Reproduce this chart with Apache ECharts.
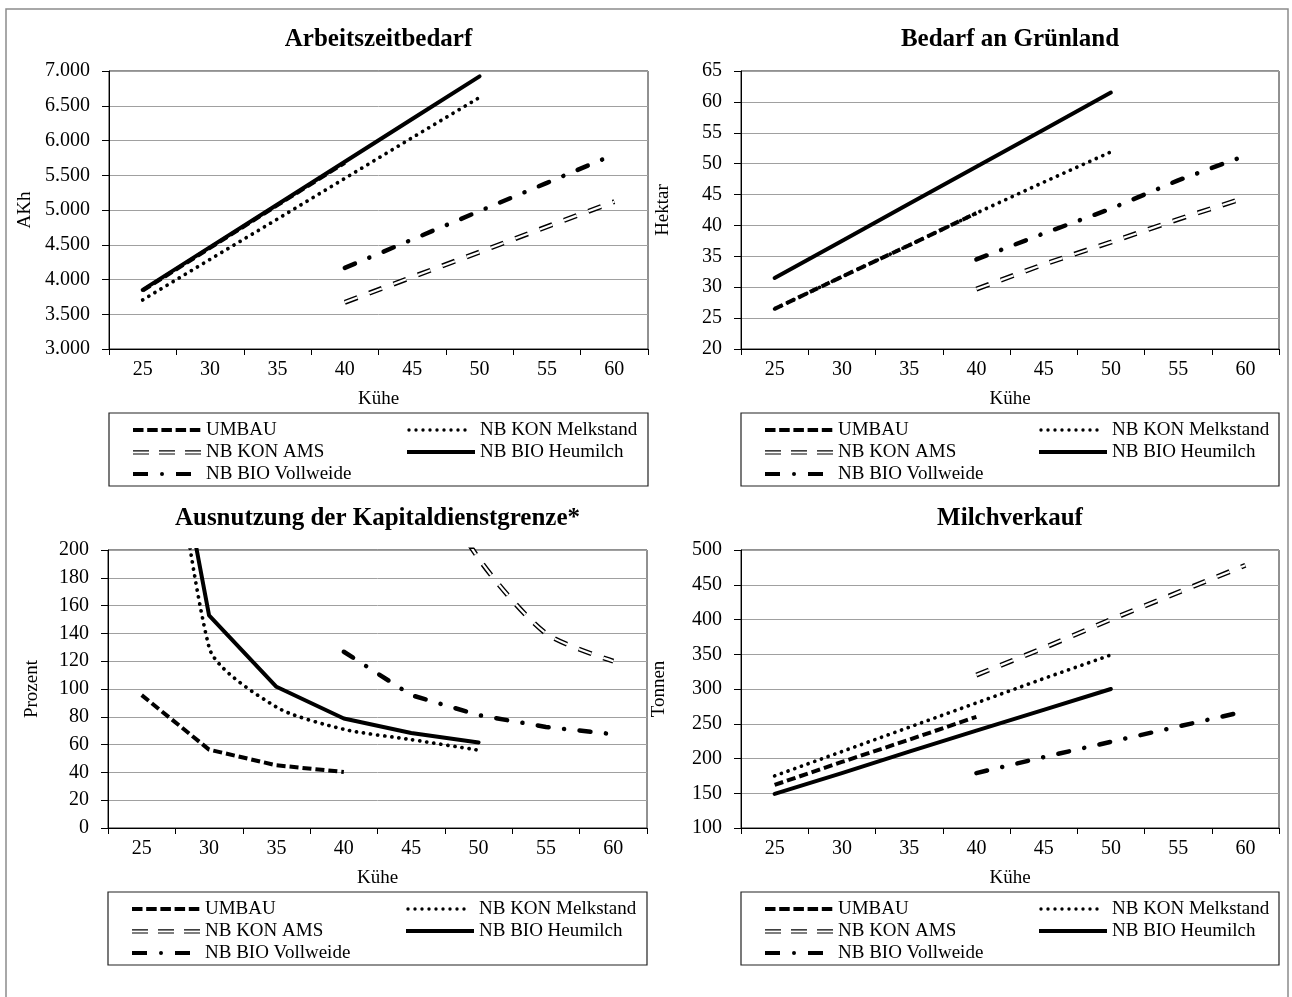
<!DOCTYPE html>
<html><head><meta charset="utf-8">
<script src="https://cdn.jsdelivr.net/npm/echarts@6.0.0/dist/echarts.min.js"></script>
<style>html,body{margin:0;padding:0;background:#fff}#c{width:1292px;height:997px}</style>
</head><body><div id="c"></div>
<script>
// ---------- DATA ----------
const kuehe = ['25', '30', '35', '40', '45', '50', '55', '60'];
const nameUmbau = 'UMBAU';
const nameMelk = 'NB KON Melkstand';
const nameAms = 'NB KON AMS';
const nameHeu = 'NB BIO Heumilch';
const nameVoll = 'NB BIO Vollweide';
const chartTitles = ['Arbeitszeitbedarf', 'Bedarf an Grünland', 'Ausnutzung der Kapitaldienstgrenze*', 'Milchverkauf'];
const yNames = ['AKh', 'Hektar', 'Prozent', 'Tonnen'];
const xName = 'Kühe';

// Arbeitszeitbedarf (AKh)
const akhTicks = ['3.000', '3.500', '4.000', '4.500', '5.000', '5.500', '6.000', '6.500', '7.000'];
const akhUmbau = [3840, 4455, 5070, 5680, null, null, null, null];
const akhMelk = [3706, 4290, 4870, 5455, 6040, 6620, null, null];
const akhAms = [null, null, null, 3672, 4035, 4395, 4760, 5120];
const akhHeu = [3850, 4465, 5080, 5695, 6310, 6923, null, null];
const akhVoll = [null, null, null, 4167, 4575, 4985, 5390, 5800];

// Bedarf an Grünland (Hektar)
const haTicks = ['20', '25', '30', '35', '40', '45', '50', '55', '60', '65'];
const haUmbau = [26.5, 31.7, 36.8, 42.0, null, null, null, null];
const haMelk = [26.5, 31.7, 36.8, 42.0, 47.0, 51.9, null, null];
const haAms = [null, null, null, 29.7, 33.7, 37.3, 41.0, 44.5];
const haHeu = [31.5, 37.5, 43.5, 49.5, 55.5, 61.5, null, null];
const haVoll = [null, null, null, 34.5, 38.7, 42.7, 47.3, 51.3];

// Ausnutzung der Kapitaldienstgrenze (Prozent)
const pctTicks = ['0', '20', '40', '60', '80', '100', '120', '140', '160', '180', '200'];
const pctUmbau = [95.6, 56.4, 45.1, 40.3, null, null, null, null];
const pctMelk = [470, 130, 87, 71, 63.6, 56, null, null];
const pctAms = [null, null, null, 430, 280, 194, 140, 120];
const pctHeu = [410, 153, 101.6, 78.8, 68.4, 61.5, null, null];
const pctVoll = [null, null, null, 126.8, 95.6, 81.2, 72.7, 67.5];

// Milchverkauf (Tonnen)
const tTicks = ['100', '150', '200', '250', '300', '350', '400', '450', '500'];
const tUmbau = [162, 195, 227, 260, null, null, null, null];
const tMelk = [175, 210, 245, 280, 315, 349, null, null];
const tAms = [null, null, null, 320, 359, 400, 439, 478];
const tHeu = [149, 179, 210, 240, 270, 300, null, null];
const tVoll = [null, null, null, 179, 202, 224, 246, 268];

// ---------- LAYOUT / STYLE ----------
const FF = '"Liberation Serif", "Times New Roman", serif';
const grids = [
  {left: 109, top: 71, width: 539, height: 278},
  {left: 741, top: 71, width: 538, height: 278},
  {left: 108, top: 550, width: 539, height: 278},
  {left: 741, top: 550, width: 538, height: 278}
];
const yRanges = [
  {min: 3000, max: 7000, interval: 500, ticks: akhTicks},
  {min: 20, max: 65, interval: 5, ticks: haTicks},
  {min: 0, max: 200, interval: 20, ticks: pctTicks},
  {min: 100, max: 500, interval: 50, ticks: tTicks}
];
const yNameGaps = [74, 68, 66, 72];
const dataSets = [
  [akhUmbau, akhMelk, akhAms, akhHeu, akhVoll],
  [haUmbau, haMelk, haAms, haHeu, haVoll],
  [pctUmbau, pctMelk, pctAms, pctHeu, pctVoll],
  [tUmbau, tMelk, tAms, tHeu, tVoll]
];
const smoothSet = [false, false, true, false];

const stUmbau = {color: '#000', width: 4, type: [9, 4], cap: 'butt'};
const stMelk = {color: '#000', width: 3.7, type: [0.1, 7], cap: 'round'};
const stAms = {color: '#000', width: 5, type: [13.5, 12.5], cap: 'butt'};
const stAmsIn = {color: '#fff', width: 2.2, type: [13.5, 12.5], cap: 'butt'};
const stHeu = {color: '#000', width: 4, type: 'solid', cap: 'round', join: 'round'};
const stVoll = {color: '#000', width: 4.5, type: [11, 15.5, 0.1, 15.5], cap: 'round'};

// legend icons (68 x 14 boxes)
function dots(xs, r, y) {
  return xs.map(x => 'M' + (x - r) + ',' + y + 'a' + r + ',' + r + ' 0 1,0 ' + (2 * r) + ',0a' + r + ',' + r + ' 0 1,0 ' + (-2 * r) + ',0z').join('');
}
const iconUmbau = 'path://M0,0M68,14' + [0, 14.2, 28.4, 42.6, 56.8].map(x => 'M' + x + ',5.1h10.5v3.8h-10.5z').join('');
const iconMelk = 'path://M0,0M68,14' + dots([2, 9, 16, 23, 30, 37, 44, 51, 58], 1.7, 7);
const iconAms = 'path://M0,0M68,14' + [0, 26, 52].map(x => 'M' + x + ',5.2h16v1.2h-16zM' + x + ',8.4h16v1.2h-16z').join('');
const iconHeu = 'path://M0,0M68,14M0,5.1h68v3.8h-68z';
const iconVoll = 'path://M0,0M68,14M0,5h15v4h-15z' + dots([29], 2, 7) + 'M43,5h15v4h-15z';

function ls(name, data, gi, style, smooth) {
  return {
    type: 'line', name: name, data: data, xAxisIndex: gi, yAxisIndex: gi,
    symbol: 'none', showSymbol: false, silent: true, animation: false,
    smooth: smooth ? 0.25 : false, clip: true,
    color: '#000', itemStyle: {color: '#000'},
    lineStyle: Object.assign({}, style),
    emphasis: {disabled: true}
  };
}
function legItem(name, icon) {
  return {name: name, icon: icon, itemStyle: {color: '#000', borderWidth: 0, opacity: 1}};
}

const series = [];
const xAxes = [], yAxes = [], legends = [], graphics = [];
for (let i = 0; i < 4; i++) {
  const d = dataSets[i];
  const sm = smoothSet[i];
  series.push(ls(nameMelk, d[1], i, stMelk, sm));
  series.push(ls(nameAms, d[2], i, stAms, sm));
  series.push(ls('ams-inner-' + i, d[2], i, stAmsIn, sm));
  series.push(ls(nameVoll, d[4], i, stVoll, false));
  series.push(ls(nameUmbau, d[0], i, stUmbau, false));
  series.push(ls(nameHeu, d[3], i, stHeu, false));

  const yr = yRanges[i];
  xAxes.push({
    gridIndex: i, type: 'category', data: kuehe, boundaryGap: true,
    name: xName, nameLocation: 'middle', nameGap: 41,
    nameTextStyle: {fontFamily: FF, fontSize: 19, color: '#000'},
    axisLine: {show: true, onZero: false, lineStyle: {color: '#000', width: 1}},
    axisTick: {show: true, length: 6, lineStyle: {color: '#000'}},
    axisLabel: {margin: 11, fontFamily: FF, fontSize: 20, color: '#000'},
    splitLine: {show: false}
  });
  yAxes.push({
    gridIndex: i, type: 'value', min: yr.min, max: yr.max, interval: yr.interval,
    name: yNames[i], nameLocation: 'middle', nameGap: yNameGaps[i],
    nameTextStyle: {fontFamily: FF, fontSize: 19, color: '#000'},
    axisLine: {show: true, lineStyle: {color: '#000', width: 1}},
    axisTick: {show: true, length: 7, lineStyle: {color: '#000'}},
    axisLabel: {margin: 19, fontFamily: FF, fontSize: 20, color: '#000',
      formatter: (function (r) { return function (v) { return r.ticks[Math.round((v - r.min) / r.interval)]; }; })(yr)},
    splitLine: {show: true, lineStyle: {color: '#a0a0a0', width: 1}}
  });

  const g = grids[i];
  const boxTop = g.top + g.height + 64;
  const boxH = 73;
  const legBase = {
    orient: 'vertical', padding: 0, itemWidth: 68, itemHeight: 14, itemGap: 2,
    selectedMode: false, top: boxTop + 7,
    textStyle: {fontFamily: FF, fontSize: 19, color: '#000', lineHeight: 20}
  };
  legends.push(Object.assign({}, legBase, {
    left: g.left + 24,
    data: [legItem(nameUmbau, iconUmbau), legItem(nameAms, iconAms), legItem(nameVoll, iconVoll)]
  }));
  legends.push(Object.assign({}, legBase, {
    left: g.left + 298,
    data: [legItem(nameMelk, iconMelk), legItem(nameHeu, iconHeu)]
  }));
  graphics.push({
    type: 'rect', silent: true, z: 0,
    shape: {x: g.left, y: boxTop, width: g.width, height: boxH},
    style: {fill: 'none', stroke: '#222', lineWidth: 1.2}
  });
  graphics.push({
    type: 'text', silent: true,
    x: g.left + g.width / 2, y: g.top - 31,
    style: {text: chartTitles[i], font: 'bold 25px ' + FF, fill: '#000', align: 'center', verticalAlign: 'middle'}
  });
}
graphics.push({
  type: 'rect', silent: true,
  shape: {x: 6, y: 9, width: 1282, height: 1010},
  style: {fill: 'none', stroke: '#8c8c8c', lineWidth: 1.5}
});

const option = {
  backgroundColor: '#fff',
  animation: false,
  grid: grids.map(g => Object.assign({show: true, borderColor: '#222', borderWidth: 1, backgroundColor: 'transparent', containLabel: false, outerBoundsMode: 'none'}, g)),
  xAxis: xAxes,
  yAxis: yAxes,
  legend: legends,
  graphic: graphics,
  series: series
};
const chart = echarts.init(document.getElementById('c'), null, {renderer: 'canvas'});
chart.setOption(option);
</script></body></html>
